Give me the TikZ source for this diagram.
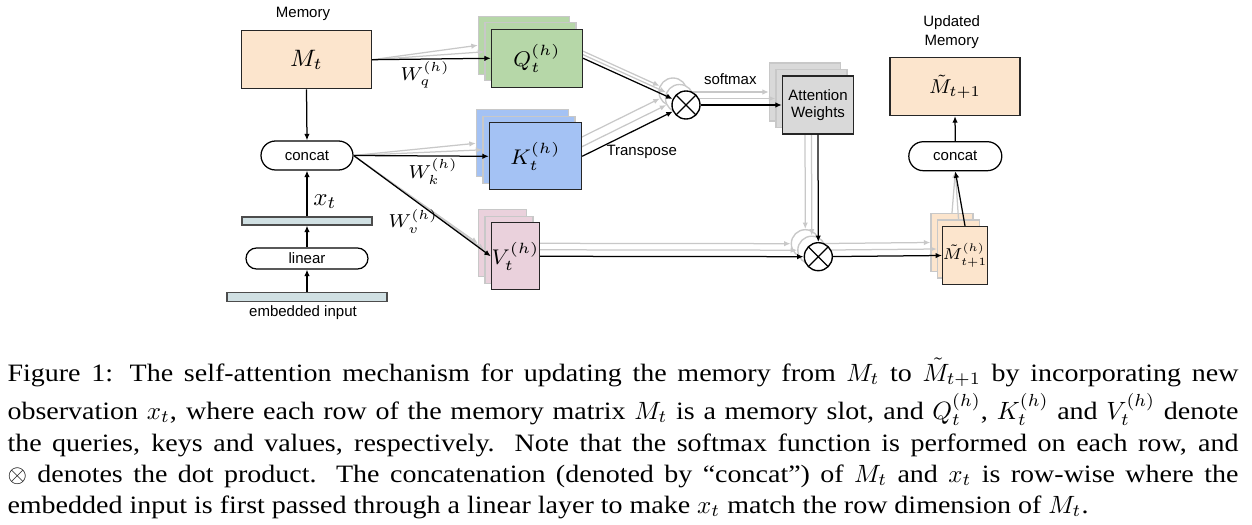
\RequirePackage{fix-cm}
\documentclass[tikz,border=0pt]{standalone}
\usepackage{fontspec}
\setmainfont{Liberation Serif}
\newfontfamily\labfont{Liberation Sans}
\newfontfamily\capfont[Ligatures=TeX,FakeStretch=1.12]{Liberation Serif}
\usetikzlibrary{arrows.meta,calc}
\definecolor{qgreen}{HTML}{B6D7A8}
\definecolor{kblue}{HTML}{A4C2F4}
\definecolor{vpink}{HTML}{EAD1DC}
\definecolor{peach}{HTML}{FCE5CD}
\definecolor{awgray}{HTML}{D9D9D9}
\definecolor{barblue}{HTML}{D0E0E3}
\definecolor{ghost}{HTML}{C8C8C8}
\tikzset{
  box/.style={draw=black!85, line width=0.55pt, inner sep=0},
  ghostbox/.style={draw=ghost, line width=0.55pt, inner sep=0},
  pill/.style={draw, rounded corners=5.8pt, fill=white, line width=0.5pt,
    minimum height=11.6pt, inner sep=0, font=\labfont\fontsize{6}{7}\selectfont},
  bar/.style={draw=black!70, fill=barblue, line width=0.5pt, inner sep=0},
  otimes/.style={circle, draw, fill=white, line width=0.55pt, minimum size=11.2pt, inner sep=0,
    path picture={\draw[line width=0.5pt]
      (path picture bounding box.north west) -- (path picture bounding box.south east)
      (path picture bounding box.north east) -- (path picture bounding box.south west);}},
  gcirc/.style={circle, draw=ghost, fill=white, line width=0.55pt, minimum size=11.2pt, inner sep=0},
  arr/.style={-{Latex[length=2.6pt,width=2.2pt]}, line width=0.5pt, black},
  garr/.style={-{Latex[length=2.6pt,width=2.2pt]}, line width=0.5pt, ghost},
  lab/.style={font=\labfont\fontsize{6}{7}\selectfont, inner sep=0},
  capline/.style={anchor=base west, inner sep=0, font=\capfont\fontsize{10}{12.4}\selectfont},
}
\begin{document}
\begin{tikzpicture}[x=0.4pt, y=-0.4pt]
\useasboundingbox (0,0) rectangle (1252,525);

% ---------- ghost (back) layers ----------
\node[ghostbox, fill=qgreen, minimum width=36.4pt, minimum height=23.2pt] (Qb1) at (524,45.3) {};
\node[ghostbox, fill=qgreen, minimum width=36.4pt, minimum height=23.2pt] (Qb2) at (530.5,51.8) {};
\node[ghostbox, fill=kblue, minimum width=36.8pt, minimum height=26.8pt] (Kb1) at (522.5,143.3) {};
\node[ghostbox, fill=kblue, minimum width=36.8pt, minimum height=26.8pt] (Kb2) at (529,149.8) {};
\node[ghostbox, fill=vpink, minimum width=19.2pt, minimum height=26.8pt] (Vb1) at (502.5,243.3) {};
\node[ghostbox, fill=vpink, minimum width=19.2pt, minimum height=26.8pt] (Vb2) at (509,249.8) {};
\node[ghostbox, fill=awgray, minimum width=28.4pt, minimum height=23.2pt] (AWb1) at (805,92) {};
\node[ghostbox, fill=awgray, minimum width=28.4pt, minimum height=23.2pt] (AWb2) at (811.5,98.5) {};
\node[ghostbox, fill=peach, minimum width=16.8pt, minimum height=23.2pt] (Mhb1) at (952,242.5) {};
\node[ghostbox, fill=peach, minimum width=16.8pt, minimum height=23.2pt] (Mhb2) at (958.5,249) {};
\node[gcirc] (O1b1) at (673,92) {};
\node[gcirc] (O1b2) at (679.5,98.5) {};
\node[gcirc] (O2b1) at (805.3,243.7) {};
\node[gcirc] (O2b2) at (811.8,250.2) {};

% ---------- front nodes (sources needed for ghost arrows) ----------
\node[box, fill=peach, minimum width=52pt, minimum height=23.2pt, font=\fontsize{9.5}{11}\selectfont]
  (Mt) at (306.5,59.7) {$M_t$};
\node[pill, minimum width=36.8pt] (cc) at (307,155.5) {concat};
\node[pill, minimum width=37.2pt] (cc2) at (955.3,156.2) {concat};

% ---------- ghost connectors ----------
\draw[garr] (Mt.east) -- (Qb1.west);
\draw[garr] (Mt.east) -- (Qb2.west);
\draw[garr] (cc.east) -- (Kb1.west);
\draw[garr] (cc.east) -- (Kb2.west);
\draw[garr] (cc.east) -- (Vb1.west);
\draw[garr] (cc.east) -- (Vb2.west);
\draw[garr] (Qb1.east) -- (O1b1);
\draw[garr] (Qb2.east) -- (O1b2);
\draw[garr] (Kb1.east) -- (O1b1);
\draw[garr] (Kb2.east) -- (O1b2);
\draw[garr] (O1b1) -- (AWb1.west);
\draw[garr] (O1b2) -- (AWb2.west);
\draw[garr] (AWb1.south) -- (O2b1);
\draw[garr] (AWb2.south) -- (O2b2);
\draw[garr] (Vb1.east) -- (O2b1);
\draw[garr] (Vb2.east) -- (O2b2);
\draw[garr] (O2b1) -- (Mhb1.west);
\draw[garr] (O2b2) -- (Mhb2.west);
\draw[garr] (Mhb1.north) -- (cc2.south);
\draw[garr] (Mhb2.north) -- (cc2.south);

% ---------- front nodes ----------
\node[box, fill=qgreen, minimum width=36.4pt, minimum height=23.2pt, font=\fontsize{8.5}{10}\selectfont]
  (Q) at (537,58.3) {$Q_t^{(h)}$};
\node[box, fill=kblue, minimum width=36.8pt, minimum height=26.8pt, font=\fontsize{8.5}{10}\selectfont]
  (K) at (535.5,156.3) {$K_t^{(h)}$};
\node[box, fill=vpink, minimum width=19.2pt, minimum height=26.8pt, font=\fontsize{8.5}{10}\selectfont]
  (V) at (515.5,256.3) {$V_t^{(h)}$};
\node[box, fill=awgray, minimum width=28.4pt, minimum height=23.2pt, align=center,
  font=\labfont\fontsize{6}{7.1}\selectfont]
  (AW) at (818,105) {Attention\\Weights};
\node[box, fill=peach, minimum width=16.8pt, minimum height=23.2pt, font=\fontsize{6.3}{7.5}\selectfont]
  (Mh) at (965,255.5) {$\tilde{M}_{t+1}^{(h)}$};
\node[box, fill=peach, minimum width=52pt, minimum height=23.2pt, font=\fontsize{8}{9}\selectfont]
  (Mn) at (955,86.5) {$\tilde{M}_{t+1}$};
\node[otimes] (O1) at (686,105) {};
\node[otimes] (O2) at (818.3,256.7) {};
\node[bar, minimum width=52pt, minimum height=3.2pt] (xbar) at (307,221) {};
\node[pill, minimum width=48.8pt, minimum height=8.4pt, rounded corners=4.2pt] (lin) at (307,258.5) {linear};
\node[bar, minimum width=64pt, minimum height=3.6pt] (ebar) at (307,296.7) {};

% ---------- labels ----------
\node[lab] (memlab) at (303,14) {Memory};
\node[lab, align=center, font=\labfont\fontsize{6}{7.6}\selectfont] (updlab) at (951.7,31.7) {Updated\\Memory};
\node[lab] (emblab) at (303,313) {embedded input};
\node[lab] (trlab) at (641.7,151.7) {Transpose};
\node[lab] (smlab) at (730.3,79.3) {softmax};
\node[inner sep=0, font=\fontsize{10}{12}\selectfont] (xlab) at (325,201.7) {$x_t$};
\node[inner sep=0, font=\fontsize{7.5}{9}\selectfont] (wq) at (425,75) {$W_q^{(h)}$};
\node[inner sep=0, font=\fontsize{7.5}{9}\selectfont] (wk) at (433,171.7) {$W_k^{(h)}$};
\node[inner sep=0, font=\fontsize{7.5}{9}\selectfont] (wv) at (413,221.7) {$W_v^{(h)}$};

% ---------- black connectors ----------
\draw[arr] (Mt.east) -- (Q.west);
\draw[arr] (Mt.south) -- (cc.north);
\draw[arr] (xbar.north) -- (cc.south);
\draw[arr] (lin.north) -- (xbar.south);
\draw[arr] (ebar.north) -- (lin.south);
\draw[arr] (cc.east) -- (K.west);
\draw[arr] (cc.east) -- (V.west);
\draw[arr] (Q.east) -- (O1);
\draw[arr] (K.east) -- (O1);
\draw[arr] (O1) -- (AW.west);
\draw[arr] (AW.south) -- (O2);
\draw[arr] (V.east) -- (O2);
\draw[arr] (O2) -- (Mh.west);
\draw[arr] (Mh.north) -- (cc2.south);
\draw[arr] (cc2.north) -- (Mn.south);

% ---------- caption ----------
\node[capline] (c1) at (7,381) {\hbox to 492.4pt{Figure 1: The self-attention mechanism for updating the memory from $M_t$ to $\tilde{M}_{t+1}$ by incorporating new}};
\node[capline] (c2) at (7,419) {\hbox to 492.4pt{observation $x_t$, where each row of the memory matrix $M_t$ is a memory slot, and $Q_t^{(h)}$, $K_t^{(h)}$ and $V_t^{(h)}$ denote}};
\node[capline] (c3) at (7,451) {\hbox to 492.4pt{the queries, keys and values, respectively. Note that the softmax function is performed on each row, and}};
\node[capline] (c4) at (7,482) {\hbox to 492.4pt{$\otimes$ denotes the dot product. The concatenation (denoted by ``concat'') of $M_t$ and $x_t$ is row-wise where the}};
\node[capline] (c5) at (7,513) {\hbox{embedded input is first passed through a linear layer to make $x_t$ match the row dimension of $M_t$.}};
\end{tikzpicture}
\end{document}
